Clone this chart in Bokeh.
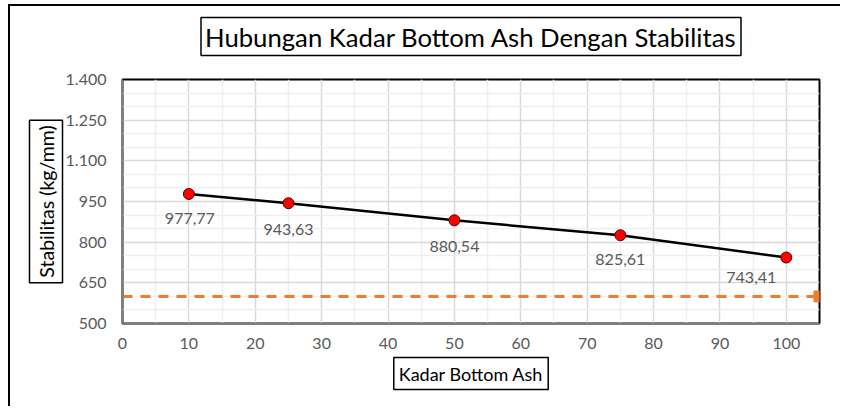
from bokeh.plotting import figure
from bokeh.models import FixedTicker, Title, ColumnDataSource, Range1d
from bokeh.core.properties import value
from bokeh.embed import file_html
from bokeh.resources import INLINE

# ---- data ----
kadar = [10, 25, 50, 75, 100]
stabilitas = [977.77, 943.63, 880.54, 825.61, 743.41]
labels = ["977,77", "943,63", "880,54", "825,61", "743,41"]
batas_x = [0, 105]
batas_y = [600, 600]
batas_marker_x = [105]
batas_marker_y = [600]

x_ticks = [0, 10, 20, 30, 40, 50, 60, 70, 80, 90, 100]
x_minor = [5, 15, 25, 35, 45, 55, 65, 75, 85, 95, 105]
y_ticks = [500, 650, 800, 950, 1100, 1250, 1400]
y_tick_labels = ["500", "650", "800", "950", "1.100", "1.250", "1.400"]
y_minor = [550, 600, 700, 750, 850, 900, 1000, 1050, 1150, 1200, 1300, 1350]

title_text = "Hubungan Kadar Bottom Ash Dengan Stabilitas"
x_title = "Kadar Bottom Ash"
y_title = "Stabilitas (kg/mm)"

FONT = "Lato"
GRAY = "#595959"

p = figure(width=832, height=402, output_backend="svg", toolbar_location=None,
           x_range=Range1d(0, 105), y_range=Range1d(500, 1400),
           min_border_left=112, min_border_right=23, min_border_top=73, min_border_bottom=85)
p.margin = (4, 0, 0, 8)
p.styles = {"border-left": "2px solid black", "border-top": "2px solid black"}
p.background_fill_color = "white"
p.border_fill_color = "white"
p.outline_line_color = "black"
p.outline_line_width = 2

p.xaxis.ticker = FixedTicker(ticks=x_ticks, minor_ticks=x_minor)
p.yaxis.ticker = FixedTicker(ticks=y_ticks, minor_ticks=y_minor)
p.yaxis.major_label_overrides = {t: l for t, l in zip(y_ticks, y_tick_labels)}

for ax in (p.xaxis, p.yaxis):
    ax.major_tick_line_color = None
    ax.minor_tick_line_color = None
    ax.major_tick_out = 0
    ax.major_tick_in = 0
    ax.minor_tick_out = 0
    ax.minor_tick_in = 0
    ax.axis_label_standoff = 0
    ax.axis_line_color = "#808080"
    ax.axis_line_width = 2
    ax.major_label_text_font = FONT
    ax.major_label_text_font_size = "16px"
    ax.major_label_text_color = GRAY
p.yaxis.major_label_standoff = 16
p.xaxis.major_label_standoff = 14

for g in (p.xgrid, p.ygrid):
    g.grid_line_color = "#d9d9d9"
    g.grid_line_width = 1.5
    g.minor_grid_line_color = "#efefef"
    g.minor_grid_line_width = 1.5

# threshold line
p.line(batas_x, batas_y, line_color="#ED7D31", line_width=3, line_dash="10 8")
p.scatter(batas_marker_x, batas_marker_y, marker="square", size=11,
          fill_color="#ED7D31", line_color="#ED7D31")

# data series
src = ColumnDataSource(dict(x=kadar, y=stabilitas, lab=labels,
                            dx=[1, 0, 0, 0, -35], dy=[25, 26, 26, 24, 20]))
p.line("x", "y", source=src, line_color="black", line_width=2.5)
p.scatter("x", "y", source=src, size=11, fill_color="#ff0000", line_color="#500000", line_width=1)
p.text("x", "y", text="lab", source=src, x_offset="dx", y_offset="dy",
       text_align="center", text_baseline="middle", text_font=value(FONT),
       text_font_size="16px", text_color=GRAY)

# title and axis titles as boxed titles in side panels
def boxed(text, size, standoff=10, pad=5, offset=0):
    return Title(text=text, align="center", standoff=standoff, offset=offset,
                 text_font=FONT, text_font_size=size, text_font_style="normal",
                 text_color="black", border_line_color="black", border_line_width=1.5,
                 background_fill_color="white", padding=pad)

p.title.text = ""
# spacer between frame and the title box (closest to frame first)
p.add_layout(Title(text=" ", text_font_size="1px", standoff=21, padding=0), "above")
p.add_layout(boxed(title_text, "25.7px", standoff=0, pad=4, offset=-4), "above")
p.add_layout(boxed(x_title, "18px", standoff=8), "below")
p.add_layout(boxed(y_title, "19.5px", standoff=0), "left")

open("out.html", "w").write(file_html(p, INLINE))
